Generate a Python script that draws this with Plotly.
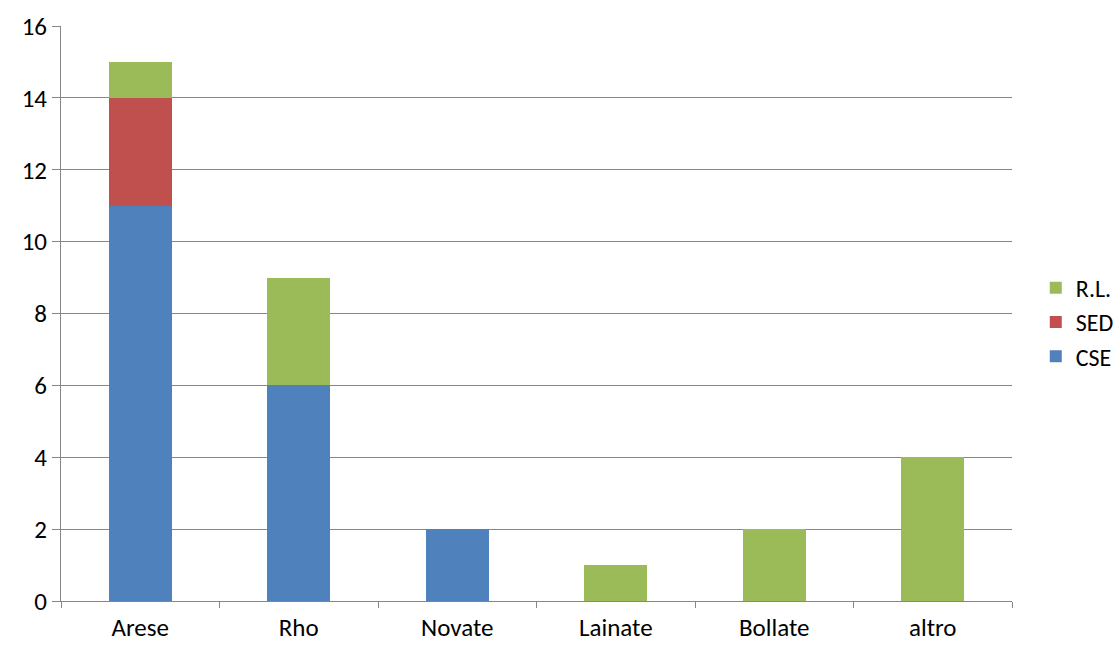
import plotly.graph_objects as go

categories = ["Arese", "Rho", "Novate", "Lainate", "Bollate", "altro"]
cse = [11, 6, 2, 0, 0, 0]
sed = [3, 0, 0, 0, 0, 0]
rl = [1, 3, 0, 1, 2, 4]
y_ticks = [0, 2, 4, 6, 8, 10, 12, 14, 16]

font_family = "Carlito, Calibri, Lato, sans-serif"

fig = go.Figure()
fig.add_trace(go.Bar(name="CSE", x=categories, y=cse,
                     marker=dict(color="#4F81BD", line=dict(width=0))))
fig.add_trace(go.Bar(name="SED", x=categories, y=sed,
                     marker=dict(color="#C0504D", line=dict(width=0))))
fig.add_trace(go.Bar(name="R.L.", x=categories, y=rl,
                     marker=dict(color="#9BBB59", line=dict(width=0))))

fig.update_layout(
    barmode="stack",
    bargap=0.6,
    width=1117, height=645,
    margin=dict(l=61, r=105, t=26, b=44, autoexpand=False),
    paper_bgcolor="white", plot_bgcolor="white",
    font=dict(family=font_family, size=25, color="black"),
    legend=dict(traceorder="reversed", x=1.025, y=0.485, yanchor="middle", xanchor="left",
                font=dict(size=24), itemwidth=30),
    xaxis=dict(showline=True, linecolor="#868686", linewidth=1, ticks="outside",
               tickson="boundaries", ticklen=6, tickcolor="#868686", showgrid=False,
               ticklabelstandoff=4),
    yaxis=dict(range=[0, 16], tickvals=y_ticks, showline=True, linecolor="#868686", linewidth=1,
               ticks="outside", ticklen=8, tickcolor="#868686", showgrid=True, gridcolor="#868686",
               gridwidth=1, zeroline=False),
)

fig.write_html("out.html")
